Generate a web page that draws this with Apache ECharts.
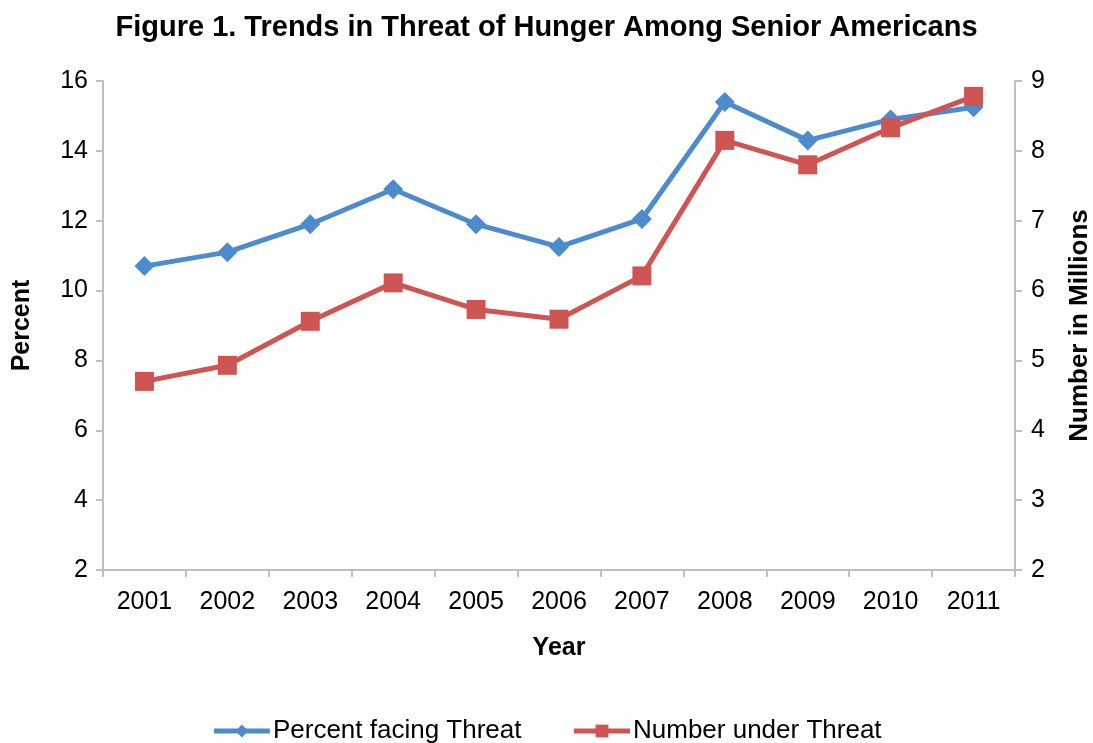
<!DOCTYPE html>
<html>
<head>
<meta charset="utf-8">
<script src="https://cdn.jsdelivr.net/npm/echarts@6/dist/echarts.min.js"></script>
<style>html,body{margin:0;padding:0;background:#fff;}#c{width:1093px;height:743px;}</style>
</head>
<body>
<div id="c"></div>
<script>
const years = ['2001','2002','2003','2004','2005','2006','2007','2008','2009','2010','2011'];
const percentFacing = [10.7, 11.1, 11.9, 12.9, 11.9, 11.25, 12.05, 15.4, 14.3, 14.9, 15.25];
const numberUnder = [4.7, 4.93, 5.56, 6.11, 5.73, 5.59, 6.21, 8.15, 7.8, 8.33, 8.78];
const titleText = 'Figure 1. Trends in Threat of Hunger Among Senior Americans';

const FONT = '"Liberation Sans", Arial, sans-serif';
const axisGrey = '#bfbfbf';
const blue = '#4c8ccd';
const red = '#cf5552';

const chart = echarts.init(document.getElementById('c'));
chart.setOption({
  animation: false,
  backgroundColor: '#fff',
  title: {
    text: titleText,
    left: 'center',
    top: 8,
    textStyle: {fontFamily: FONT, fontSize: 29, fontWeight: 'bold', color: '#000'}
  },
  legend: {
    top: 713,
    left: 'center',
    itemWidth: 56,
    itemHeight: 16,
    itemGap: 50,
    lineStyle: {width: 5},
    textStyle: {fontFamily: FONT, fontSize: 26, color: '#000', padding: [0,0,0,-2]},
    data: ['Percent facing Threat', 'Number under Threat']
  },
  grid: {left: 103, right: 78, top: 81, bottom: 173, containLabel: false, outerBoundsMode: 'none'},
  xAxis: {
    type: 'category',
    data: years,
    boundaryGap: true,
    name: 'Year',
    nameLocation: 'middle',
    nameGap: 66,
    nameTextStyle: {fontFamily: FONT, fontSize: 25, fontWeight: 'bold', color: '#000'},
    axisLine: {lineStyle: {color: axisGrey, width: 2}},
    axisTick: {show: true, alignWithLabel: false, length: 7, lineStyle: {color: axisGrey, width: 2}},
    axisLabel: {fontFamily: FONT, fontSize: 25, color: '#000', margin: 20},
    splitLine: {show: false}
  },
  yAxis: [
    {
      type: 'value',
      min: 2, max: 16, interval: 2,
      name: 'Percent',
      nameLocation: 'middle',
      nameGap: 68,
      nameRotate: 90,
      nameTextStyle: {fontFamily: FONT, fontSize: 25, fontWeight: 'bold', color: '#000'},
      axisLine: {show: true, lineStyle: {color: axisGrey, width: 2}},
      axisTick: {show: true, length: 7, lineStyle: {color: axisGrey, width: 2}},
      axisLabel: {fontFamily: FONT, fontSize: 25, color: '#000', margin: 15},
      splitLine: {show: false}
    },
    {
      type: 'value',
      min: 2, max: 9, interval: 1,
      name: 'Number in Millions',
      nameLocation: 'middle',
      nameGap: 52,
      nameRotate: 90,
      nameTextStyle: {fontFamily: FONT, fontSize: 26, fontWeight: 'bold', color: '#000'},
      axisLine: {show: true, lineStyle: {color: axisGrey, width: 2}},
      axisTick: {show: true, length: 7, lineStyle: {color: axisGrey, width: 2}},
      axisLabel: {fontFamily: FONT, fontSize: 25, color: '#000', margin: 16},
      splitLine: {show: false}
    }
  ],
  series: [
    {
      name: 'Percent facing Threat',
      type: 'line',
      yAxisIndex: 0,
      data: percentFacing,
      symbol: 'diamond',
      symbolSize: 20,
      itemStyle: {color: blue},
      lineStyle: {color: blue, width: 5},
      z: 2
    },
    {
      name: 'Number under Threat',
      type: 'line',
      yAxisIndex: 1,
      data: numberUnder,
      symbol: 'rect',
      symbolSize: 19,
      itemStyle: {color: red},
      lineStyle: {color: red, width: 5},
      z: 3
    }
  ]
});
</script>
</body>
</html>
